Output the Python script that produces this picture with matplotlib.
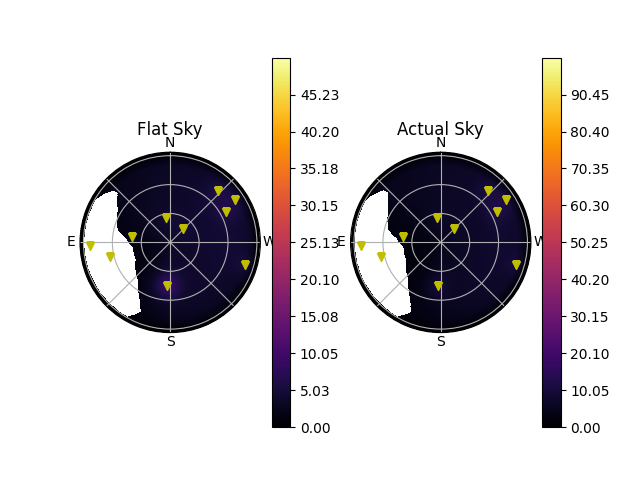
import numpy as np
import matplotlib
matplotlib.use('Agg')
import matplotlib.pyplot as plt

# star positions (azimuth from N through E, zenith angle), degrees
star_az = [317.3, 303.0, 298.4, 9.3, 315.6, 82.5, 92.4, 103.5, 253.2, 176.4]
star_za = [72.5, 80.5, 66.0, 25.5, 19.7, 39.8, 83.0, 64.0, 81.6, 45.2]

# glow around each star, in colorbar units
glow_flat = [1.5, 1.5, 1.5, 1.0, 1.0, 0.5, 0.0, 0.0, 1.5, 5.5]
glow_actual = [3.0, 3.0, 3.0, 1.5, 1.0, 1.0, 0.0, 0.0, 2.5, 4.0]

# coarse sky background: rows = azimuth, columns = zenith angle
bg_az = [0, 45, 90, 135, 180, 225, 270, 315]
bg_za = [0, 30, 60, 80, 88, 90, 95]
bg_flat = [
    [3.5, 3.5, 3.5, 3.0, 1.5, 0.0, 0.0],
    [3.5, 3.0, 2.5, 2.5, 1.0, 0.0, 0.0],
    [3.0, 1.5, 0.8, 0.8, 0.5, 0.0, 0.0],
    [3.0, 2.0, 1.2, 0.8, 0.5, 0.0, 0.0],
    [3.5, 4.0, 3.5, 2.5, 1.0, 0.0, 0.0],
    [3.5, 4.0, 4.0, 3.0, 1.5, 0.0, 0.0],
    [3.5, 4.0, 4.5, 4.0, 2.0, 0.0, 0.0],
    [3.5, 4.0, 4.5, 4.0, 2.0, 0.0, 0.0],
]
bg_actual = [
    [5.0, 5.5, 6.5, 6.0, 3.0, 0.0, 0.0],
    [4.5, 4.5, 5.0, 5.0, 2.0, 0.0, 0.0],
    [4.0, 2.0, 1.0, 1.0, 1.0, 0.0, 0.0],
    [4.0, 2.5, 1.5, 1.0, 1.0, 0.0, 0.0],
    [4.5, 5.5, 5.5, 4.0, 2.0, 0.0, 0.0],
    [5.0, 6.5, 7.5, 6.5, 3.0, 0.0, 0.0],
    [5.0, 7.0, 8.5, 8.0, 4.0, 0.0, 0.0],
    [5.0, 6.5, 8.0, 7.5, 3.5, 0.0, 0.0],
]

# blank (no data) region on the east side: inner and outer zenith edge
mask_az = [46.6, 58.2, 76.6, 84.3, 90, 97, 117, 139.4, 152.3, 157.2]
mask_za = [74.6, 63.8, 55.7, 46, 43.7, 39, 40, 51.4, 67.5, 78.4]
mask_top_az = [46.6, 47.6, 54.7, 60, 150, 157.2]
mask_top_za = [74.6, 80, 86, 89, 89, 78.4]

vmax_flat = 50.251
vmax_actual = 100.502
rmax = 93.6


def sky_field(bg, glow, th, rr):
    bg = np.asarray(bg, float)
    az_ext = np.append(bg_az, 360)
    rows = np.array([np.interp(rr[:, 0], bg_za, row) for row in bg])  # (naz, nr)
    rows = np.vstack([rows, rows[:1]])
    z = np.empty_like(rr)
    for j in range(rr.shape[0]):
        z[j, :] = np.interp(th[0, :], az_ext, rows[:, j])
    x = rr * np.sin(np.radians(th))
    y = rr * np.cos(np.radians(th))
    for a, zz, g in zip(star_az, star_za, glow):
        sx = zz * np.sin(np.radians(a))
        sy = zz * np.cos(np.radians(a))
        z += g * np.exp(-((x - sx) ** 2 + (y - sy) ** 2) / (2 * 9.0 ** 2))
    z[rr > 89] = 0.0
    inner = np.interp(th, mask_az, mask_za)
    top = np.interp(th, mask_top_az, mask_top_za)
    blank = (th >= mask_az[0]) & (th <= mask_az[-1]) & (rr >= inner) & (rr <= top)
    return np.where(blank, np.nan, z)


theta = np.arange(0, 360.5, 0.5)
r = np.arange(0, rmax + 0.25, 0.25)
TH, RR = np.meshgrid(theta, r)

fig = plt.figure(figsize=(6.4, 4.8), dpi=100)
panels = [('Flat Sky', bg_flat, glow_flat, vmax_flat),
          ('Actual Sky', bg_actual, glow_actual, vmax_actual)]
for i, (title, bg, glow, vmax) in enumerate(panels):
    ax = fig.add_subplot(1, 2, i + 1, projection='polar')
    ax.set_theta_zero_location('N')
    ax.set_theta_direction(1)
    Z = sky_field(bg, glow, TH, RR)
    mesh = ax.pcolormesh(np.radians(TH), RR, np.ma.masked_invalid(Z),
                         cmap='inferno', vmin=0, vmax=vmax, shading='auto')
    ax.plot(np.radians(star_az), star_za, 'yv', linestyle='none')
    ax.set_ylim(0, rmax)
    ax.set_yticks([30, 60, 90])
    ax.set_yticklabels([])
    ax.set_thetagrids(np.arange(0, 360, 45), ['N', '', 'E', '', 'S', '', 'W', ''])
    ax.tick_params(axis='x', pad=-3.7)
    ax.grid(True)
    ax.set_title(title, y=1.0, pad=12.4)
    ticks = np.linspace(0, vmax, 11)[:-1]
    cb = fig.colorbar(mesh, ax=ax)
    cb.set_ticks(ticks)
    cb.ax.set_yticklabels(['%.2f' % t for t in ticks])

fig.savefig('out.png')
